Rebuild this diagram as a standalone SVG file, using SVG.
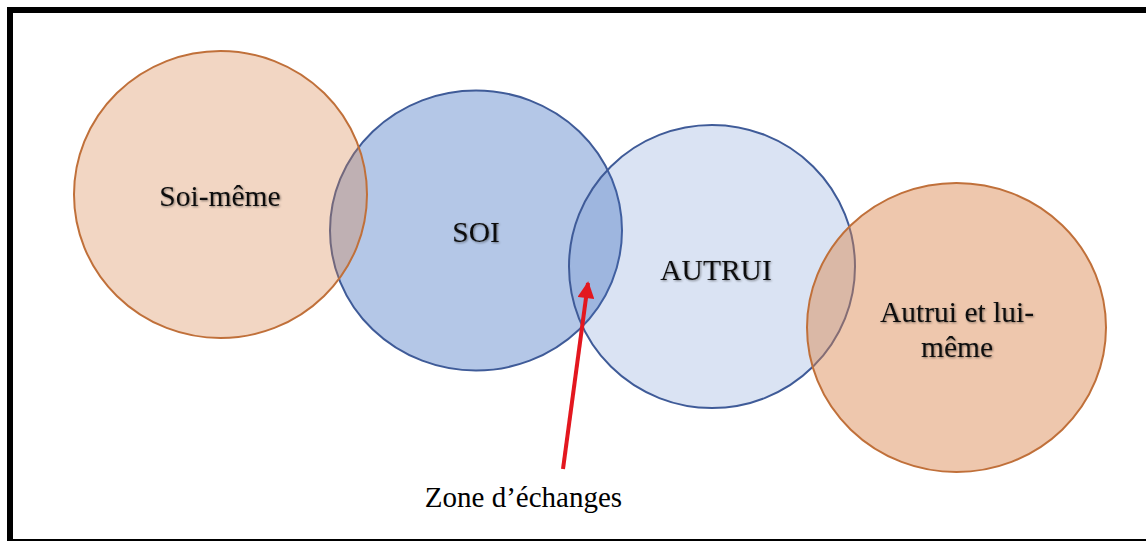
<svg xmlns="http://www.w3.org/2000/svg" width="1146" height="541" viewBox="0 0 1146 541">
  <defs>
    <style>
      .lbl { font-family: "Liberation Serif", "Times New Roman", serif; font-size: 29.5px; fill: #111; text-anchor: middle; filter: url(#soft); }
      .blue { stroke: #3F5B98; stroke-width: 2; }
      .orange { stroke: #C0703A; stroke-width: 2; }
    </style>
    <filter id="soft" x="-10%" y="-30%" width="120%" height="160%">
      <feDropShadow dx="1" dy="1" stdDeviation="0.8" flood-color="#000" flood-opacity="0.45"/>
    </filter>
    <marker id="arrowhead" viewBox="0 0 10 10" refX="9" refY="5" markerWidth="4.5" markerHeight="4.2" orient="auto" markerUnits="strokeWidth">
      <path d="M0,0 L10,5 L0,10 Z" fill="#E3171F"/>
    </marker>
  </defs>
  <rect x="0" y="0" width="1146" height="541" fill="#ffffff"/>
  <rect x="10" y="10" width="1150" height="532" fill="#ffffff" stroke="#000" stroke-width="6"/>

  <g id="node-soi">
    <ellipse cx="476" cy="230.5" rx="146" ry="140" fill="#4472C4" fill-opacity="0.4" class="blue"/>
  </g>
  <g id="node-autrui">
    <ellipse cx="712" cy="266.5" rx="143" ry="141.5" fill="#4472C4" fill-opacity="0.2" class="blue"/>
  </g>
  <g id="node-soi-meme">
    <ellipse cx="220.5" cy="194.5" rx="146.5" ry="143.5" fill="#D9824A" fill-opacity="0.33" class="orange"/>
  </g>
  <g id="node-autrui-lui-meme">
    <ellipse cx="956.5" cy="327.5" rx="149.5" ry="144.5" fill="#D9824A" fill-opacity="0.45" class="orange"/>
  </g>

  <g id="labels">
    <text class="lbl" x="220" y="206">Soi-même</text>
    <text class="lbl" x="476" y="242">SOI</text>
    <text class="lbl" x="716" y="280">AUTRUI</text>
    <text class="lbl" x="957" y="322">Autrui et lui-</text>
    <text class="lbl" x="957" y="357">même</text>
  </g>

  <g id="connectors">
    <line x1="563" y1="469" x2="588" y2="283" stroke="#E3171F" stroke-width="4" marker-end="url(#arrowhead)"/>
  </g>

  <g id="node-zone">
    <text x="523.5" y="507" style="font-family: 'Liberation Serif', 'Times New Roman', serif; font-size: 29px; fill: #000; text-anchor: middle;">Zone d’échanges</text>
  </g>
</svg>
